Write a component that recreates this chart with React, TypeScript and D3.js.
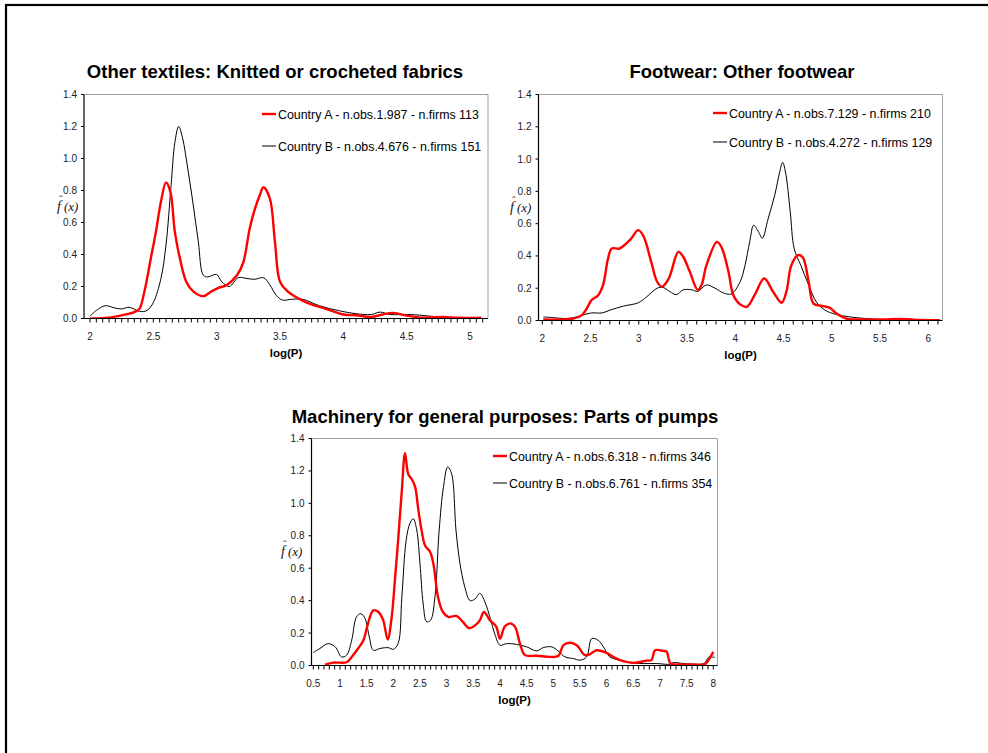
import React from "react";
import * as d3 from "d3";

// ---------- Data ----------
const p1Title = "Other textiles: Knitted or crocheted fabrics";
const p1LegendA = "Country A - n.obs.1.987 - n.firms 113";
const p1LegendB = "Country B - n.obs.4.676 - n.firms 151";
const p1AX = [2.0, 2.12, 2.25, 2.35, 2.39, 2.43, 2.48, 2.52, 2.56, 2.6, 2.635, 2.67, 2.71, 2.76, 2.815, 2.895, 2.96, 3.01, 3.08, 3.16, 3.21, 3.26, 3.3, 3.34, 3.37, 3.42, 3.46, 3.5, 3.56, 3.67, 3.775, 3.84, 4.0, 4.1, 4.22, 4.31, 4.39, 4.49, 4.63, 4.79, 4.89, 5.0, 5.09];
const p1AY = [0.0, 0.003, 0.02, 0.04, 0.06, 0.17, 0.375, 0.54, 0.73, 0.85, 0.79, 0.54, 0.375, 0.23, 0.17, 0.14, 0.17, 0.19, 0.21, 0.27, 0.35, 0.56, 0.68, 0.77, 0.82, 0.75, 0.48, 0.23, 0.17, 0.115, 0.08, 0.067, 0.025, 0.02, 0.01, 0.025, 0.035, 0.02, 0.005, 0.01, 0.005, 0.003, 0.005];
const p1BX = [2.0, 2.05, 2.12, 2.2, 2.25, 2.31, 2.39, 2.45, 2.5, 2.56, 2.6, 2.64, 2.67, 2.7, 2.73, 2.775, 2.815, 2.855, 2.895, 2.93, 3.0, 3.04, 3.1, 3.17, 3.24, 3.3, 3.37, 3.42, 3.47, 3.52, 3.59, 3.68, 3.81, 3.97, 4.1, 4.22, 4.29, 4.37, 4.53, 4.68, 4.84, 5.0, 5.09];
const p1BY = [0.015, 0.05, 0.08, 0.065, 0.06, 0.07, 0.045, 0.05, 0.1, 0.25, 0.46, 0.83, 1.1, 1.2, 1.13, 0.92, 0.71, 0.48, 0.27, 0.26, 0.275, 0.23, 0.2, 0.255, 0.25, 0.245, 0.255, 0.21, 0.145, 0.115, 0.12, 0.12, 0.08, 0.048, 0.03, 0.025, 0.04, 0.025, 0.025, 0.015, 0.003, 0.0, 0.0];
const p1Ticks = [2, 2.5, 3, 3.5, 4, 4.5, 5];

const p2Title = "Footwear: Other footwear";
const p2LegendA = "Country A - n.obs.7.129 - n.firms 210";
const p2LegendB = "Country B - n.obs.4.272 - n.firms 129";
const p2AX = [2.01, 2.18, 2.32, 2.41, 2.46, 2.51, 2.58, 2.63, 2.68, 2.72, 2.8, 2.91, 2.995, 3.05, 3.13, 3.19, 3.24, 3.31, 3.41, 3.46, 3.53, 3.61, 3.65, 3.7, 3.81, 3.86, 3.93, 3.98, 4.05, 4.12, 4.2, 4.3, 4.39, 4.48, 4.53, 4.58, 4.65, 4.7, 4.76, 4.81, 4.9, 4.98, 5.05, 5.15, 5.36, 5.53, 5.71, 5.84, 6.12];
const p2AY = [0.006, 0.006, 0.012, 0.033, 0.074, 0.126, 0.157, 0.22, 0.38, 0.446, 0.446, 0.5, 0.56, 0.52, 0.36, 0.24, 0.21, 0.26, 0.425, 0.395, 0.3, 0.19, 0.22, 0.34, 0.487, 0.45, 0.3, 0.157, 0.1, 0.085, 0.157, 0.26, 0.18, 0.11, 0.18, 0.34, 0.405, 0.39, 0.24, 0.105, 0.09, 0.078, 0.043, 0.012, 0.006, 0.006, 0.01, 0.005, 0.002];
const p2BX = [2.01, 2.11, 2.24, 2.36, 2.44, 2.51, 2.62, 2.7, 2.84, 2.995, 3.08, 3.19, 3.25, 3.32, 3.39, 3.46, 3.55, 3.61, 3.7, 3.79, 3.88, 3.96, 4.05, 4.1, 4.15, 4.19, 4.24, 4.28, 4.34, 4.41, 4.46, 4.49, 4.52, 4.57, 4.61, 4.68, 4.76, 4.84, 4.93, 5.05, 5.19, 5.36, 5.57, 5.74, 5.88, 6.12];
const p2BY = [0.022, 0.018, 0.012, 0.022, 0.037, 0.047, 0.047, 0.064, 0.089, 0.11, 0.146, 0.2, 0.205, 0.18, 0.16, 0.19, 0.19, 0.18, 0.22, 0.2, 0.17, 0.165, 0.24, 0.34, 0.49, 0.59, 0.55, 0.51, 0.63, 0.78, 0.92, 0.98, 0.92, 0.67, 0.446, 0.34, 0.22, 0.115, 0.064, 0.037, 0.022, 0.012, 0.006, 0.01, 0.006, 0.002];
const p2Ticks = [2, 2.5, 3, 3.5, 4, 4.5, 5, 5.5, 6];

const p3Title = "Machinery for general purposes: Parts of pumps";
const p3LegendA = "Country A - n.obs.6.318 - n.firms 346";
const p3LegendB = "Country B - n.obs.6.761 - n.firms 354";
const p3AX = [0.72, 0.875, 1.125, 1.22, 1.34, 1.44, 1.51, 1.625, 1.72, 1.81, 1.895, 1.97, 2.03, 2.09, 2.16, 2.22, 2.28, 2.345, 2.41, 2.47, 2.53, 2.595, 2.69, 2.75, 2.84, 2.93, 3.03, 3.19, 3.3, 3.425, 3.56, 3.625, 3.7, 3.81, 3.93, 4.0, 4.09, 4.19, 4.28, 4.375, 4.47, 4.69, 4.94, 5.09, 5.19, 5.31, 5.44, 5.59, 5.69, 5.81, 6.0, 6.125, 6.25, 6.5, 6.75, 6.84, 6.91, 7.06, 7.125, 7.2, 7.375, 7.625, 7.84, 7.91, 8.0];
const p3AY = [0.006, 0.018, 0.02, 0.053, 0.105, 0.156, 0.24, 0.34, 0.33, 0.28, 0.16, 0.3, 0.526, 0.77, 1.08, 1.31, 1.18, 1.15, 1.1, 0.96, 0.835, 0.74, 0.7, 0.63, 0.42, 0.33, 0.3, 0.305, 0.27, 0.23, 0.255, 0.28, 0.33, 0.28, 0.24, 0.165, 0.24, 0.26, 0.24, 0.135, 0.064, 0.06, 0.053, 0.058, 0.125, 0.14, 0.125, 0.064, 0.07, 0.094, 0.078, 0.053, 0.033, 0.016, 0.03, 0.033, 0.094, 0.09, 0.085, 0.012, 0.006, 0.006, 0.006, 0.033, 0.084];
const p3BX = [0.5, 0.625, 0.78, 0.91, 1.03, 1.125, 1.22, 1.31, 1.39, 1.47, 1.55, 1.625, 1.75, 1.91, 2.0, 2.09, 2.16, 2.24, 2.31, 2.375, 2.44, 2.5, 2.56, 2.625, 2.7, 2.78, 2.86, 2.94, 3.02, 3.095, 3.175, 3.25, 3.34, 3.44, 3.53, 3.625, 3.72, 3.81, 3.91, 4.0, 4.125, 4.31, 4.5, 4.69, 4.81, 4.97, 5.09, 5.22, 5.375, 5.5, 5.625, 5.72, 5.84, 5.94, 6.06, 6.25, 6.44, 6.69, 6.94, 7.19, 7.25, 7.44, 7.75, 7.84, 7.91, 8.03];
const p3BY = [0.08, 0.105, 0.135, 0.115, 0.053, 0.064, 0.156, 0.3, 0.32, 0.29, 0.176, 0.094, 0.105, 0.11, 0.1, 0.135, 0.42, 0.77, 0.875, 0.905, 0.835, 0.63, 0.38, 0.27, 0.28, 0.42, 0.835, 1.1, 1.225, 1.18, 0.835, 0.63, 0.485, 0.4, 0.41, 0.445, 0.39, 0.3, 0.187, 0.125, 0.135, 0.13, 0.115, 0.09, 0.11, 0.115, 0.09, 0.053, 0.043, 0.033, 0.053, 0.166, 0.156, 0.115, 0.053, 0.033, 0.016, 0.012, 0.012, 0.008, 0.018, 0.012, 0.008, 0.016, 0.05, 0.05];
const p3Ticks = [0.5, 1, 1.5, 2, 2.5, 3, 3.5, 4, 4.5, 5, 5.5, 6, 6.5, 7, 7.5, 8];

const yTicks = [0, 0.2, 0.4, 0.6, 0.8, 1.0, 1.2, 1.4];
const xAxisTitle = "log(P)";

const FONT = "Arial, 'Liberation Sans', Helvetica, sans-serif";

type PanelProps = {
  title: string;
  legA: string;
  legB: string;
  ax: number[]; ay: number[]; bx: number[]; by: number[];
  ticks: number[];
  minorStep: number;
  left: number; right: number; top: number; bottom: number;
  x0: number; x0px: number; x1: number; x1px: number;
  titleX: number; titleY: number;
  legX: number; legY: number; legGap: number;
  yLabX: number; yLabY: number;
};

function Panel(p: PanelProps) {
  const x = d3.scaleLinear().domain([p.x0, p.x1]).range([p.x0px, p.x1px]);
  const y = d3.scaleLinear().domain([0, 1.4]).range([p.bottom, p.top]);
  const line = d3.line<[number, number]>()
    .x(d => x(d[0]))
    .y(d => y(d[1]))
    .curve(d3.curveCatmullRom.alpha(0.5));
  const aPts = p.ax.map((v, i) => [v, p.ay[i]] as [number, number]);
  const bPts = p.bx.map((v, i) => [v, p.by[i]] as [number, number]);
  const dMin = x.invert(p.left);
  const dMax = x.invert(p.right);
  const minor: number[] = [];
  const start = Math.ceil((dMin - 1e-9) / p.minorStep);
  for (let k = start; k * p.minorStep <= dMax + 1e-9; k++) minor.push(k * p.minorStep);
  const fmt = d3.format(".1f");
  const clipId = "clip" + Math.round(p.left);
  return (
    <g>
      <defs>
        <clipPath id={clipId}>
          <rect x={p.left} y={p.top - 2} width={p.right - p.left} height={p.bottom - p.top + 2} />
        </clipPath>
      </defs>
      <text x={p.titleX} y={p.titleY} textAnchor="middle" fontFamily={FONT} fontWeight="bold" fontSize={18.5}>{p.title}</text>
      <line x1={p.left} x2={p.right} y1={p.top} y2={p.top} stroke="#a0a0a0" strokeWidth={1} />
      <line x1={p.right} x2={p.right} y1={p.top} y2={p.bottom} stroke="#a0a0a0" strokeWidth={1} />
      <g clipPath={`url(#${clipId})`}>
        <path d={line(bPts) || ""} fill="none" stroke="#000" strokeWidth={1} />
        <path d={line(aPts) || ""} fill="none" stroke="#ff0000" strokeWidth={2.4} />
      </g>
      <line x1={p.left} x2={p.left} y1={p.top} y2={p.bottom} stroke="#000" strokeWidth={1.2} />
      <line x1={p.left} x2={p.right} y1={p.bottom} y2={p.bottom} stroke="#000" strokeWidth={1.2} />
      {yTicks.map(t => (
        <g key={"y" + t}>
          <line x1={p.left - 3} x2={p.left} y1={y(t)} y2={y(t)} stroke="#000" strokeWidth={1} />
          <text x={p.left - 7} y={y(t) + 3.5} textAnchor="end" fontFamily={FONT} fontSize={10} fill="#222">{fmt(t)}</text>
        </g>
      ))}
      {minor.map(t => (
        <line key={"m" + t} x1={x(t)} x2={x(t)} y1={p.bottom} y2={p.bottom + 4} stroke="#000" strokeWidth={1} />
      ))}
      {p.ticks.map(t => (
        <text key={"x" + t} x={x(t)} y={p.bottom + 21} textAnchor="middle" fontFamily={FONT} fontSize={10} fill="#222">{String(t)}</text>
      ))}
      <text x={(p.left + p.right) / 2} y={p.bottom + 38} textAnchor="middle" fontFamily={FONT} fontWeight="bold" fontSize={11.5}>{xAxisTitle}</text>
      <g fontFamily="'Liberation Serif', 'DejaVu Serif', serif" fontStyle="italic" fill="#111">
        <text x={p.yLabX} y={p.yLabY} fontSize={14}>f</text>
        <text x={p.yLabX + 2} y={p.yLabY - 8} fontStyle="normal" fontSize={11}>ˆ</text>
        <text x={p.yLabX + 7} y={p.yLabY} fontSize={13}>(x)</text>
      </g>
      <line x1={p.legX} x2={p.legX + 14} y1={p.legY} y2={p.legY} stroke="#ff0000" strokeWidth={2.4} />
      <text x={p.legX + 16} y={p.legY + 4.5} fontFamily={FONT} fontSize={12.4}>{p.legA}</text>
      <line x1={p.legX} x2={p.legX + 14} y1={p.legY + p.legGap} y2={p.legY + p.legGap} stroke="#000" strokeWidth={1} />
      <text x={p.legX + 16} y={p.legY + p.legGap + 4.5} fontFamily={FONT} fontSize={12.4}>{p.legB}</text>
    </g>
  );
}

export default function App() {
  return (
    <svg width={988} height={753} style={{ position: "absolute", left: 0, top: 0, background: "#fff" }}>
      <rect x={0} y={0} width={988} height={753} fill="#fff" />
      <rect x={6} y={5} width={1000} height={800} fill="none" stroke="#000" strokeWidth={2.2} />
      <Panel title={p1Title} legA={p1LegendA} legB={p1LegendB}
        ax={p1AX} ay={p1AY} bx={p1BX} by={p1BY} ticks={p1Ticks} minorStep={0.05}
        left={84} right={488} top={94.5} bottom={318.5}
        x0={2} x0px={90} x1={5} x1px={470}
        titleX={275} titleY={78} legX={262} legY={114} legGap={32} yLabX={57} yLabY={211} />
      <Panel title={p2Title} legA={p2LegendA} legB={p2LegendB}
        ax={p2AX} ay={p2AY} bx={p2BX} by={p2BY} ticks={p2Ticks} minorStep={0.1}
        left={538.5} right={942.5} top={94.5} bottom={320.5}
        x0={2} x0px={542.3} x1={6} x1px={928.3}
        titleX={742} titleY={78} legX={713} legY={113} legGap={29} yLabX={510} yLabY={212} />
      <Panel title={p3Title} legA={p3LegendA} legB={p3LegendB}
        ax={p3AX} ay={p3AY} bx={p3BX} by={p3BY} ticks={p3Ticks} minorStep={0.1}
        left={311.5} right={717.5} top={438.5} bottom={665.5}
        x0={0.5} x0px={313.3} x1={8} x1px={713.3}
        titleX={505} titleY={423} legX={493} legY={456} legGap={27} yLabX={281} yLabY={556} />
    </svg>
  );
}
